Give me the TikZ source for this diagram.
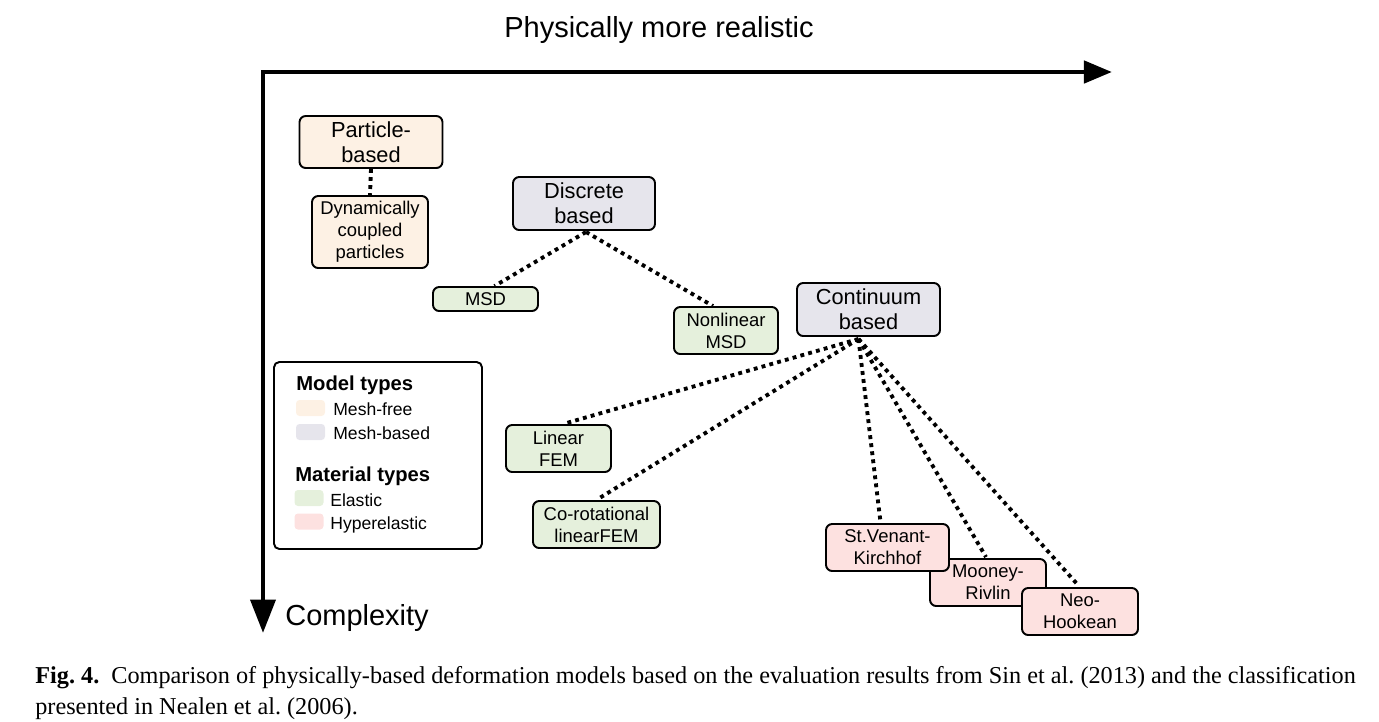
\documentclass[tikz,border=0pt]{standalone}
\usepackage{fontspec}
\setmainfont{Liberation Serif}
\setsansfont{Liberation Sans}
\usetikzlibrary{arrows.meta,calc}

\definecolor{meshfree}{HTML}{FDF1E4}
\definecolor{meshbased}{HTML}{E6E5EC}
\definecolor{elastic}{HTML}{E5F0DC}
\definecolor{hyper}{HTML}{FDE1E0}

\tikzset{
    model/.style={draw=black, line width=1.1pt, rounded corners=3.5pt, align=center,
        inner sep=0pt, font=\sffamily\fontsize{12.4}{14.4}\selectfont},
    material/.style={model, font=\sffamily\fontsize{10.5}{12.5}\selectfont},
    link/.style={line width=2.2pt, dash pattern=on 2.2pt off 2.4pt},
    swatch/.style={rounded corners=2pt, minimum width=0.58cm, minimum height=0.32cm, inner sep=0pt},
    legtext/.style={anchor=base west, inner sep=0pt, font=\sffamily\fontsize{10}{12}\selectfont},
    legtitle/.style={anchor=base west, inner sep=0pt, font=\sffamily\bfseries\fontsize{11.5}{13}\selectfont},
    axislabel/.style={inner sep=0pt, font=\sffamily\fontsize{16.5}{20}\selectfont},
    captionline/.style={anchor=base west, inner sep=0pt, font=\rmfamily\fontsize{13.8}{16}\selectfont},
}

\begin{document}
\begin{tikzpicture}[x=0.02cm, y=-0.02cm]
    \useasboundingbox (0,0) rectangle (1379,721);

    % axes
    \coordinate (origin) at (263,72);
    \coordinate (xend) at (1112,72);
    \coordinate (yend) at (263,633);
    \draw[line width=2.8pt, line join=miter,
        {Triangle[length=19pt,width=14pt]}-{Triangle[length=16pt,width=12.5pt]}]
        (yend) -- (origin) -- (xend);
    \node[axislabel] (realistic) at (659,30) {Physically more realistic};
    \node[axislabel, anchor=west] (complexity) at (285,618) {Complexity};

    % model nodes
    \node[model, fill=meshfree, minimum width=2.86cm, minimum height=1.04cm] (particle) at (371,142) {Particle-\\based};
    \node[material, fill=meshfree, minimum width=2.32cm, minimum height=1.44cm] (dyn) at (370,232) {Dynamically\\coupled\\particles};
    \node[model, fill=meshbased, minimum width=2.84cm, minimum height=1.06cm] (disc) at (584,203.5) {Discrete\\based};
    \node[material, fill=elastic, minimum width=2.1cm, minimum height=0.48cm] (msd) at (485.5,299) {MSD};
    \node[material, fill=elastic, minimum width=2.08cm, minimum height=0.94cm] (nlmsd) at (726,330.5) {Nonlinear\\MSD};
    \node[model, fill=meshbased, minimum width=2.86cm, minimum height=1.06cm] (cont) at (868.5,309.5) {Continuum\\based};
    \node[material, fill=elastic, minimum width=2.1cm, minimum height=0.94cm] (lin) at (558.5,448.5) {Linear\\FEM};
    \node[material, fill=elastic, minimum width=2.54cm, minimum height=0.94cm] (corot) at (596.5,524.5) {Co-rotational\\linearFEM};
    \node[material, fill=hyper, minimum width=2.32cm, minimum height=0.94cm] (moo) at (988,582.5) {Mooney-\\Rivlin};
    \node[material, fill=hyper, minimum width=2.46cm, minimum height=0.94cm] (stv) at (887.5,547.5) {St.Venant-\\Kirchhof};
    \node[material, fill=hyper, minimum width=2.32cm, minimum height=0.94cm] (neo) at (1080,611.5) {Neo-\\Hookean};

    % links
    \coordinate (hub) at ($(cont.south)+(-10,2)$);
    \draw[link] (particle.south) -- (dyn.north);
    \draw[link] ($(disc.south)+(2,1)$) -- ($(msd.north)+(9,0)$);
    \draw[link] ($(disc.south)+(2,1)$) -- ($(nlmsd.north)+(-13,0)$);
    \draw[link] (hub) -- ($(lin.north)+(8,-1)$);
    \draw[link] (hub) -- ($(corot.north)+(3,-2)$);
    \draw[link] (hub) -- ($(stv.north)+(-7,-1)$);
    \draw[link] (hub) -- ($(moo.north)+(-2,-1)$);
    \draw[link] (hub) -- ($(neo.north)+(-2,-2)$);

    % legend
    \node[draw=black, line width=1.1pt, rounded corners=3pt, minimum width=4.16cm, minimum height=3.74cm] (legend) at (378,455.5) {};
    \node[legtitle] (modeltitle) at (296,390) {Model types};
    \node[swatch, fill=meshfree] (swfree) at (310.5,408) {};
    \node[legtext] (txfree) at (333,415) {Mesh-free};
    \node[swatch, fill=meshbased] (swbased) at (310.5,432) {};
    \node[legtext] (txbased) at (333,439) {Mesh-based};
    \node[legtitle] (mattitle) at (295,481) {Material types};
    \node[swatch, fill=elastic] (swelastic) at (309,498) {};
    \node[legtext] (txelastic) at (330,506) {Elastic};
    \node[swatch, fill=hyper] (swhyper) at (309,521.5) {};
    \node[legtext] (txhyper) at (330,529) {Hyperelastic};

    % caption
    \node[captionline] (cap1) at (35,683) {\textbf{Fig.~4.}\enspace Comparison of physically-based deformation models based on the evaluation results from Sin et al.\ (2013) and the classification};
    \node[captionline] (cap2) at (35,714) {presented in Nealen et al.\ (2006).};
\end{tikzpicture}
\end{document}
